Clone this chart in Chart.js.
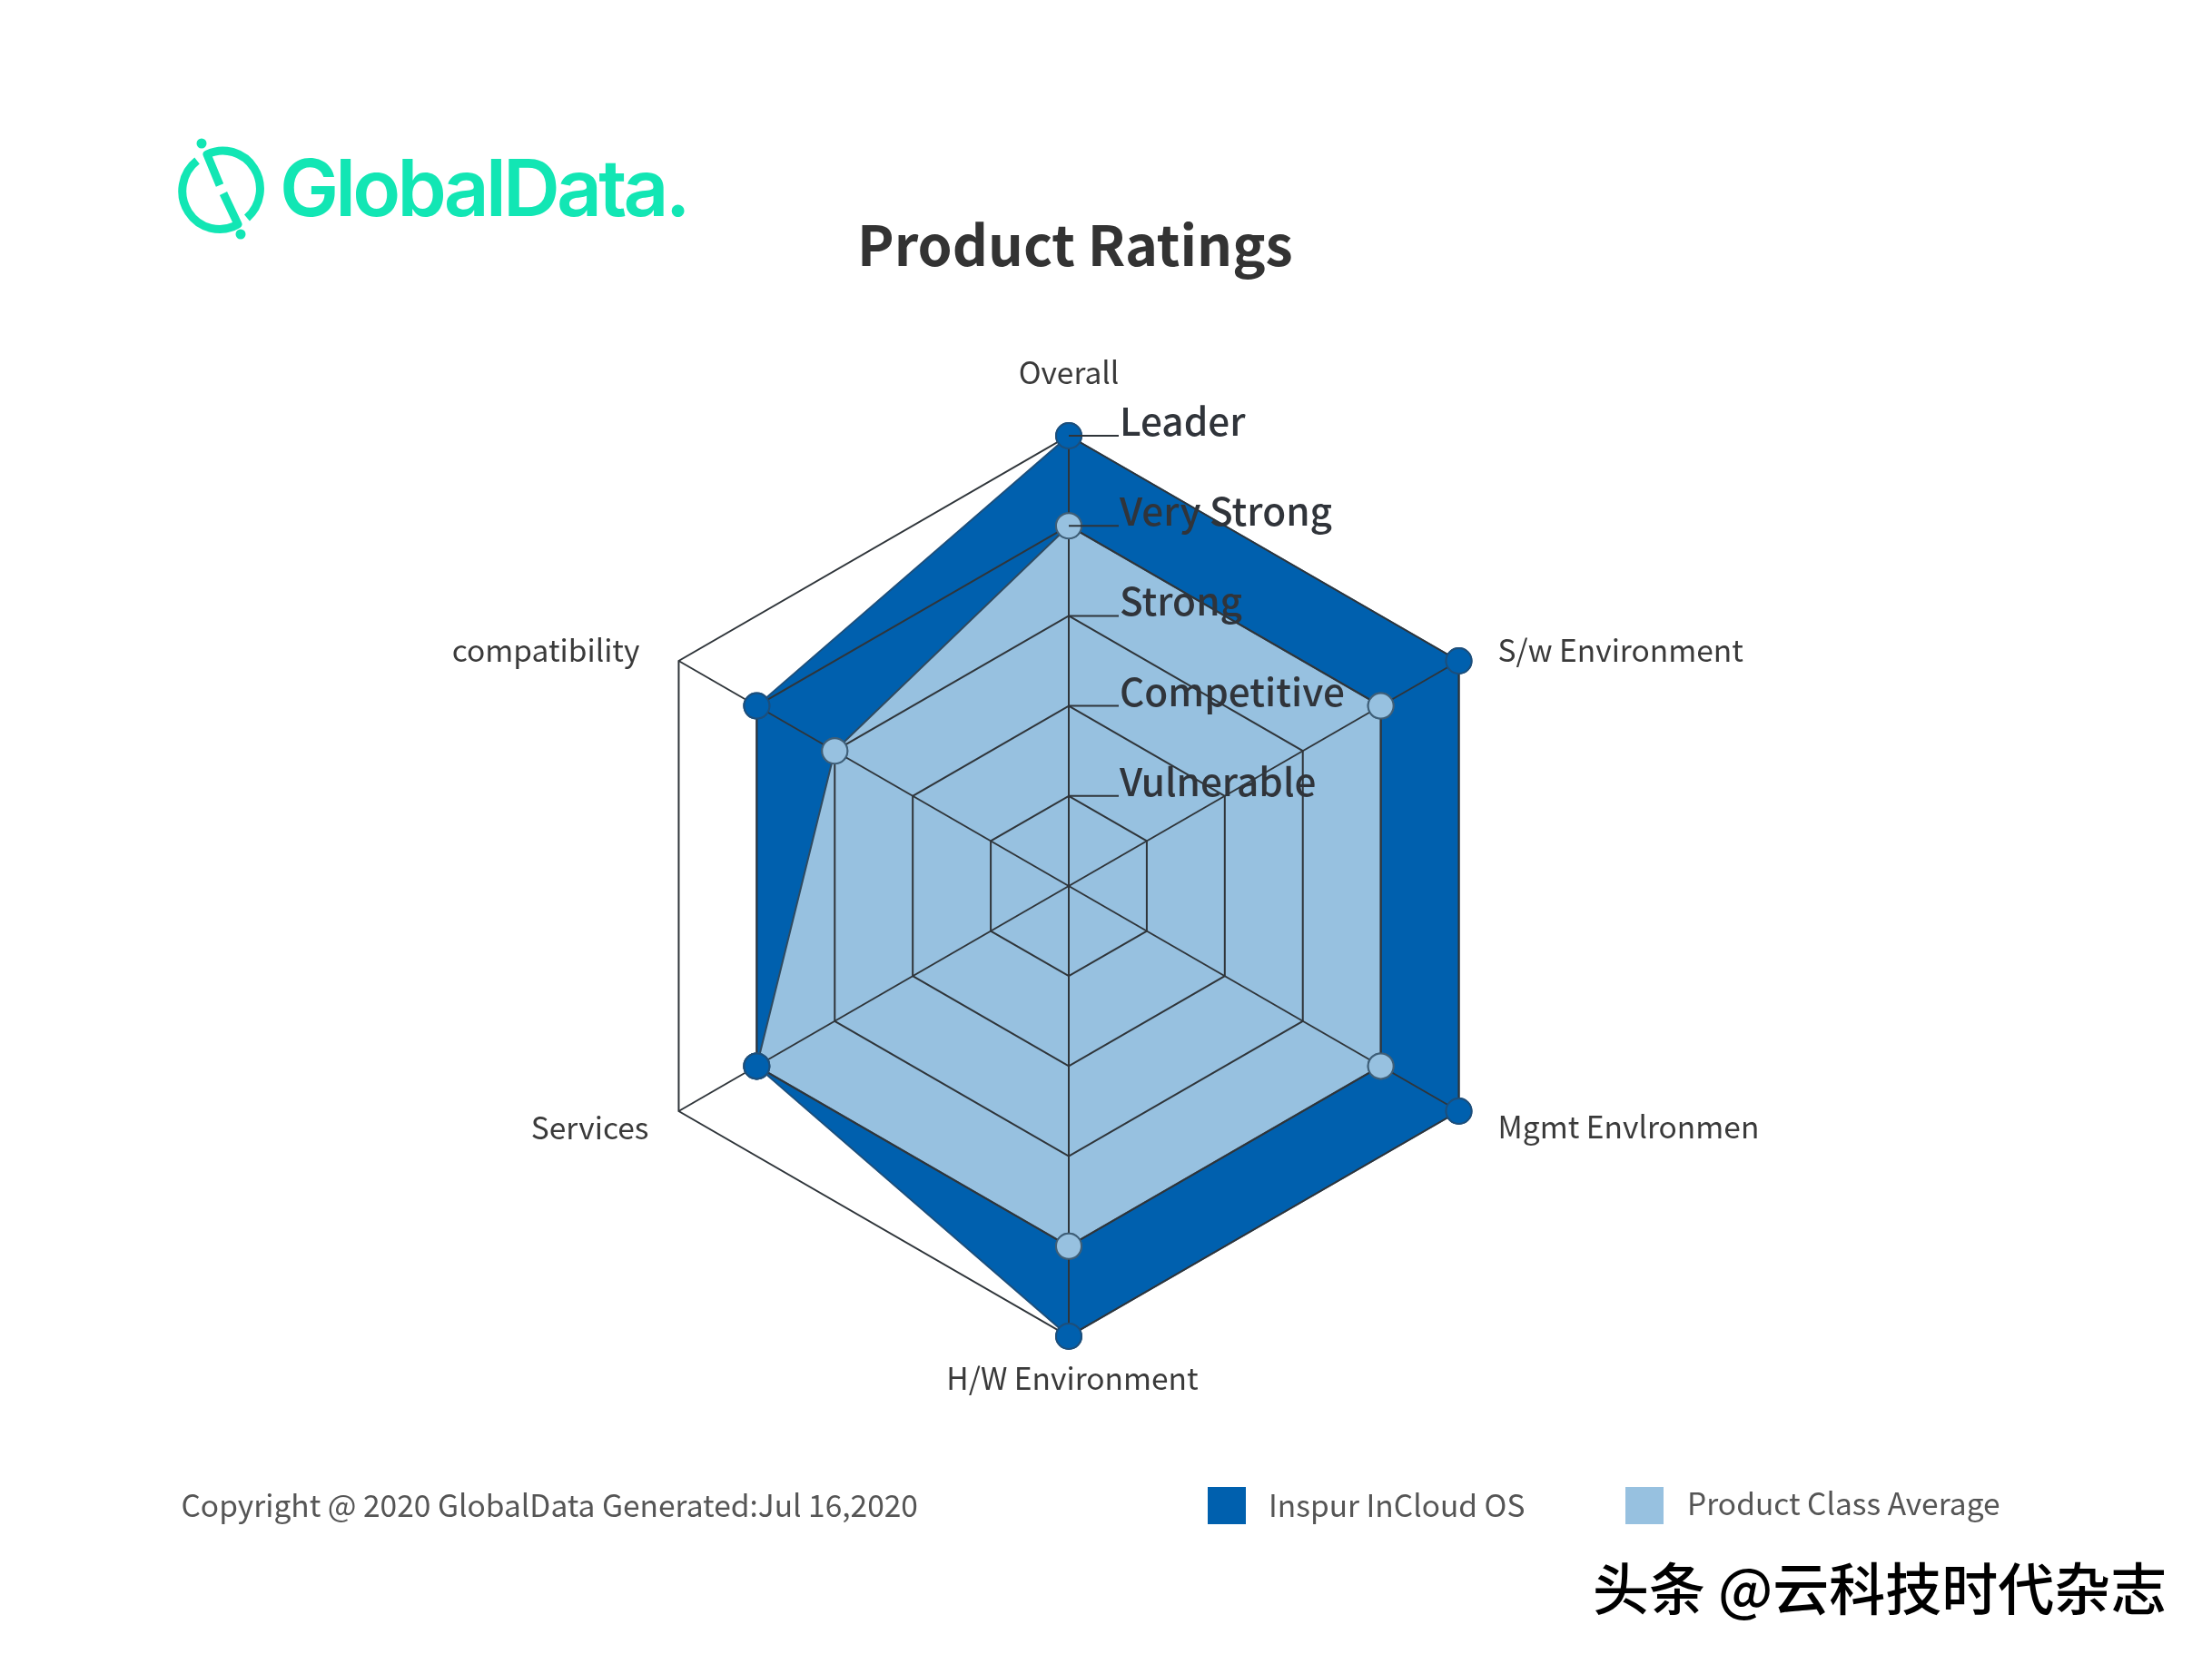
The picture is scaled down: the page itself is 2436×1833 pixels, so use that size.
<!DOCTYPE html>
<html>
<head>
<meta charset="utf-8">
<title>Product Ratings</title>
<script src="https://cdn.jsdelivr.net/npm/chart.js@4/dist/chart.umd.min.js"></script>
<style>
  html, body { margin: 0; padding: 0; background: #fff; }
  body { position: relative; width: 2436px; height: 1833px; overflow: hidden; font-family: "Noto Sans CJK SC", "Noto Sans", sans-serif; }
  canvas { position: absolute; left: 0; top: 0; }
  .txt { position: absolute; white-space: nowrap; line-height: 1; }
  .swatch { position: absolute; width: 42px; height: 41px; }
  #title { left: 944px; top: 236px; font-size: 61px; font-weight: 700; color: #333; }
  #copy { left: 199.5px; top: 1640px; font-size: 33.5px; color: #555; }
  #mark { left: 1754px; top: 1716px; font-size: 62px; font-weight: 500; color: #000; }
  #logo { position: absolute; left: 190px; top: 145px; }
</style>
</head>
<body>
<svg id="logo" width="590" height="130" viewBox="0 0 590 130">
  <g fill="none" stroke="#12e6b4" stroke-width="9" stroke-linecap="butt" stroke-linejoin="round">
    <path d="M27 32 A41 42 0 0 0 72 102 L56 68"/>
    <path d="M52 59 L38 25 A41 42 0 0 1 82 95"/>
  </g>
  <circle cx="32" cy="13" r="5.5" fill="#12e6b4"/>
  <circle cx="75" cy="113" r="5.5" fill="#12e6b4"/>
  <text x="118" y="93" font-family="Inter" font-size="87" font-weight="600" letter-spacing="-3.8" fill="#12e6b4">GlobalData.</text>
</svg>
<div class="txt" id="title">Product Ratings</div>
<canvas id="radar" width="2436" height="1833"></canvas>
<div class="txt" id="copy">Copyright @ 2020 GlobalData Generated:Jul 16,2020</div>
<div class="swatch" style="left:1330px;top:1638px;background:#0060ae"></div>
<div class="txt" style="left:1397px;top:1640px;font-size:33.5px;color:#555">Inspur InCloud OS</div>
<div class="swatch" style="left:1790px;top:1638px;background:#97c1e0"></div>
<div class="txt" style="left:1858px;top:1638px;font-size:33.5px;color:#555">Product Class Average</div>
<div class="txt" id="mark">头条 @云科技时代杂志</div>
<script>
const categories = ['Overall','S/w Environment','Mgmt Envlronmen','H/W Environment','Services','compatibility'];
const inspurValues = [5,5,5,5,4,4];
const classAverage = [4,4,4,4,4,3];
const tierLabels = ['Vulnerable','Competitive','Strong','Very Strong','Leader'];

const gridColor = '#2f353a';
const labelFont = '33.5px "Noto Sans CJK SC"';

// offset of each axis label from its outer vertex: x, y, align
const labelSpots = [
    [0,-70,'center'],
    [43,-12,'left'],
    [43,17,'left'],
    [4,46,'center'],
    [-33,18,'right'],
    [-43,-12,'right']
];

// grid goes over the fills, so points + text go back on top afterwards
const ratingOverlay = {
    id: 'ratingOverlay',
    afterDraw(chart) {
        const ctx = chart.ctx;
        const scale = chart.scales.r;
        // points sit above the grid
        chart.data.datasets.forEach((ds, i) => {
            chart.getDatasetMeta(i).data.forEach(p => p.draw(ctx));
        });
        ctx.save();
        // leader lines and rating names
        tierLabels.forEach((name, i) => {
            const p = scale.getPointPositionForValue(0, i + 1);
            ctx.strokeStyle = gridColor;
            ctx.lineWidth = 2;
            ctx.beginPath();
            ctx.moveTo(p.x, p.y);
            ctx.lineTo(p.x + 55, p.y);
            ctx.stroke();
            ctx.fillStyle = '#30343a';
            ctx.font = '500 42.3px "Noto Sans CJK SC"';
            ctx.textAlign = 'left';
            ctx.textBaseline = 'alphabetic';
            ctx.fillText(name, p.x + 56, p.y);
        });
        // axis names
        ctx.font = labelFont;
        ctx.fillStyle = '#3a3a3a';
        ctx.textBaseline = 'middle';
        categories.forEach((name, i) => {
            const p = scale.getPointPositionForValue(i, 5);
            const spot = labelSpots[i];
            ctx.textAlign = spot[2];
            ctx.fillText(name, p.x + spot[0], p.y + spot[1]);
        });
        ctx.restore();
    }
};

new Chart(document.getElementById('radar'), {
    type: 'radar',
    data: {
        labels: categories,
        // first dataset is painted last in Chart.js, so the average goes first
        datasets: [{
            label: 'Product Class Average',
            data: classAverage,
            fill: true,
            backgroundColor: '#97c1e0',
            borderColor: '#2f4a60',
            borderWidth: 2,
            pointRadius: 14,
            pointBackgroundColor: '#97c1e0',
            pointBorderColor: '#3f5f78',
            pointBorderWidth: 2
        }, {
            label: 'Inspur InCloud OS',
            data: inspurValues,
            fill: true,
            backgroundColor: '#0060ae',
            borderColor: '#1c4f7c',
            borderWidth: 2,
            pointRadius: 14,
            pointBackgroundColor: '#0060ae',
            pointBorderColor: '#1c4f7c',
            pointBorderWidth: 2
        }]
    },
    plugins: [ratingOverlay],
    options: {
        responsive: false,
        devicePixelRatio: 1,
        animation: false,
        events: [],
        layout: { padding: { left: 681, right: 763, top: 480, bottom: 361 } },
        scales: {
            r: {
                min: 0,
                max: 5,
                ticks: { display: false, stepSize: 1 },
                pointLabels: { display: false },
                grid: { color: gridColor, lineWidth: 2, z: 1 },
                angleLines: { color: gridColor, lineWidth: 2 }
            }
        },
        plugins: {
            legend: { display: false },
            tooltip: { enabled: false }
        }
    }
});
</script>
</body>
</html>
